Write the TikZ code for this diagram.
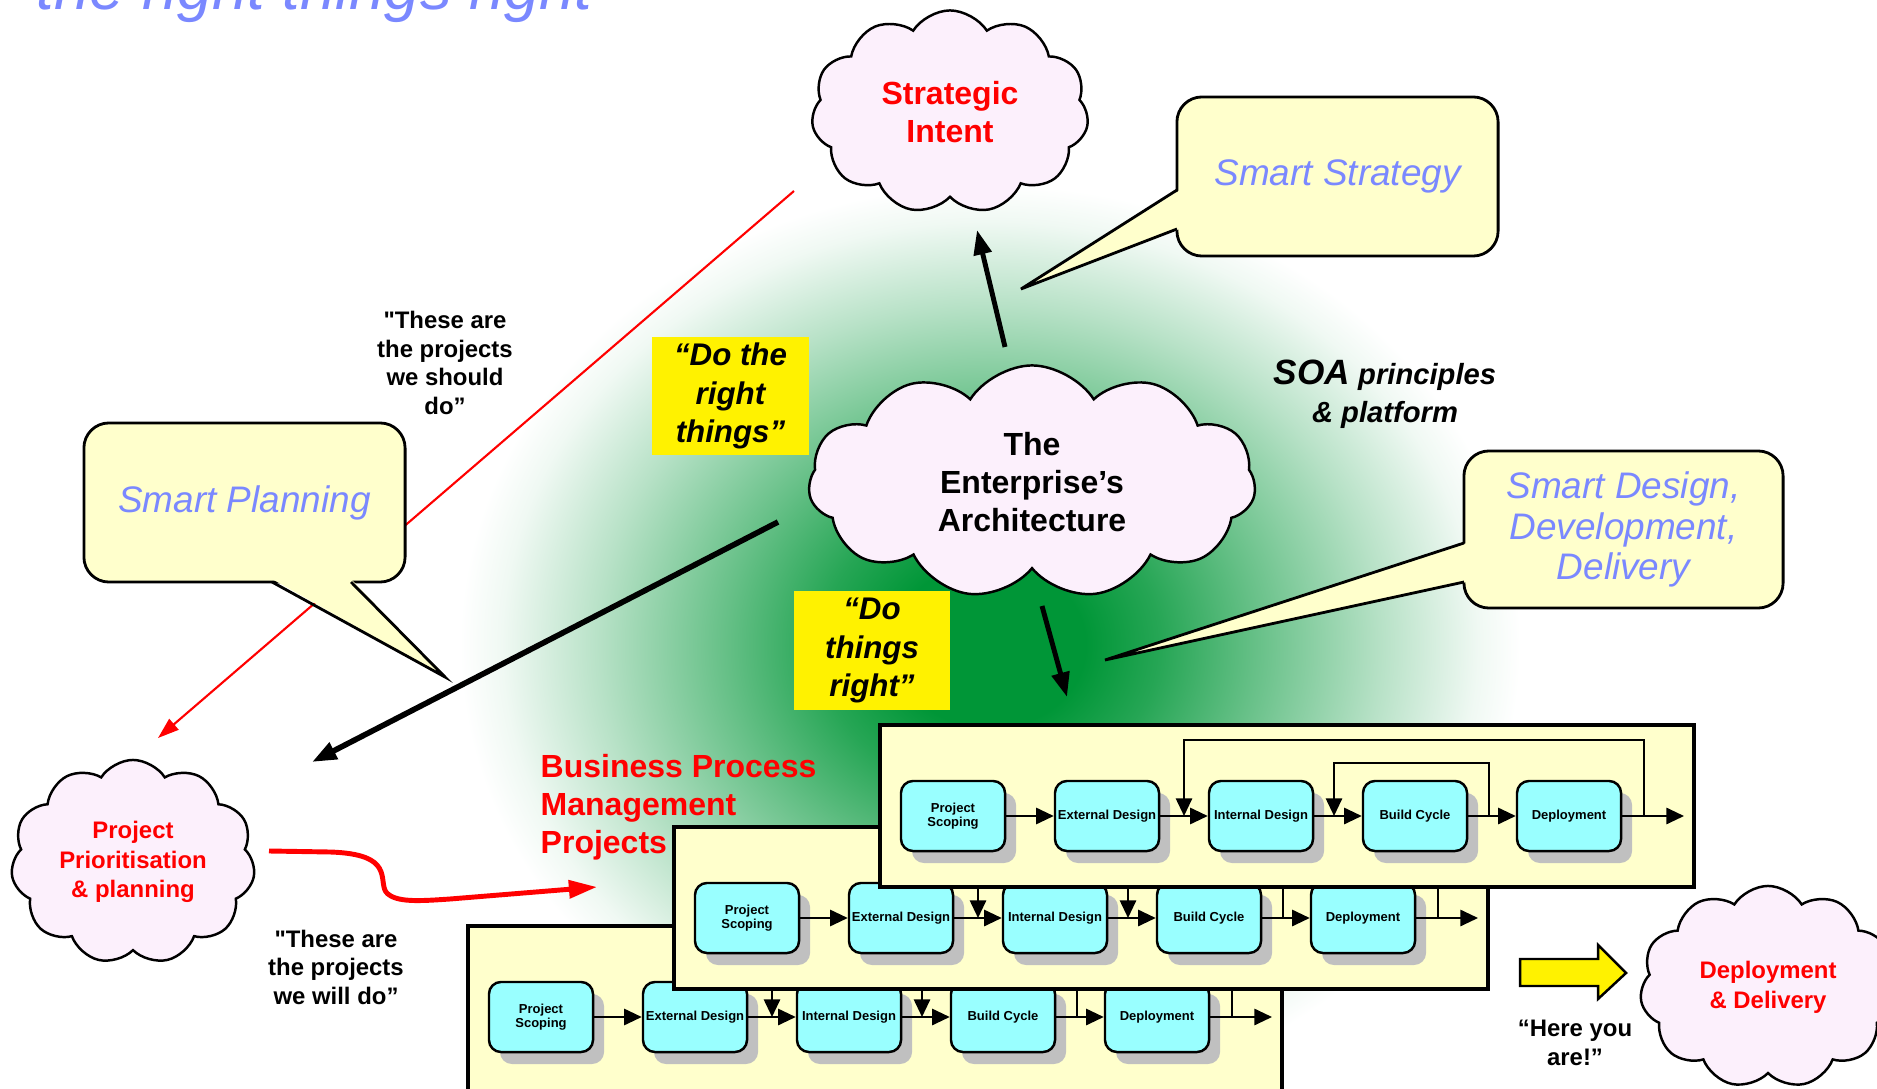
\documentclass[tikz,border=0pt]{standalone}
\usepackage{fontspec}
\setmainfont{Liberation Sans}[Ligatures=TeXOff]
\usetikzlibrary{shapes.symbols,shadows,arrows.meta}

\definecolor{cloudpink}{RGB}{252,240,252}
\definecolor{noteyellow}{RGB}{255,255,204}
\definecolor{smartblue}{RGB}{122,136,255}
\definecolor{boxcyan}{RGB}{153,255,255}
\definecolor{shadowgray}{RGB}{192,192,192}
\definecolor{soagreen}{RGB}{0,150,55}
\colorlet{deepgreen}{soagreen!85}
\colorlet{midgreen}{soagreen!60}
\colorlet{palegreen}{soagreen!28}
\colorlet{faintgreen}{soagreen!6}
\pgfdeclareradialshading{glow}{\pgfpoint{0bp}{0bp}}{color(0bp)=(soagreen); color(4.5bp)=(soagreen); color(8bp)=(deepgreen); color(12.5bp)=(midgreen); color(18.5bp)=(palegreen); color(23bp)=(faintgreen); color(25bp)=(white); color(50bp)=(white)}

\begin{document}
\begin{tikzpicture}[x=0.01cm,y=-0.01cm]

\tikzstyle{cloudy}=[cloud,cloud puffs=11,cloud puff arc=115,cloud ignores aspect,draw,line width=0.7pt,fill=cloudpink,align=center,inner sep=0pt]
\tikzstyle{callout}=[draw,line width=0.8pt,rounded corners=0.25cm,fill=noteyellow,text=smartblue,align=center,font=\itshape\fontsize{10.5}{11.4}\selectfont]
\tikzstyle{quotebox}=[fill=yellow,align=center,inner sep=0pt,font=\bfseries\itshape\fontsize{8.9}{10.9}\selectfont]
\tikzstyle{saying}=[align=center,inner sep=0pt,font=\bfseries\fontsize{6.8}{8.1}\selectfont]
\tikzstyle{bigarrow}=[line width=1.4pt,-{Triangle[length=7pt,width=5pt]}]
\tikzstyle{panel}=[draw,line width=0.9pt,fill=noteyellow]
\tikzstyle{process}=[draw,line width=0.7pt,rounded corners=0.12cm,fill=boxcyan,minimum width=1.04cm,minimum height=0.7cm,inner sep=0pt,align=center,font=\bfseries\fontsize{3.7}{4}\selectfont,drop shadow={shadow xshift=0.11cm,shadow yshift=-0.12cm,fill=shadowgray,opacity=1}]
\tikzstyle{flow}=[line width=0.6pt,-{Triangle[length=5pt,width=4.6pt]}]

\useasboundingbox[fill=white] (0,0) rectangle (1877,1089);
\shade[shading=glow] (990,645) ellipse [x radius=5.3cm,y radius=4.6cm];

% red line behind the planning note
\coordinate (r1) at (794,191);
\coordinate (r2) at (158,738);
\draw[red,line width=0.6pt,-{Triangle[length=6pt,width=4pt]}] (r1) -- (r2);

\node[anchor=base west,inner sep=0pt,text=smartblue,font=\itshape\fontsize{18}{21}\selectfont] (0) at (36,10) {the right things right};

\node[cloudy,minimum width=2.77cm,minimum height=2.03cm,text=red,font=\bfseries\fontsize{9.1}{10.8}\selectfont] (1) at (950,112) {Strategic\\Intent};
\node[cloudy,minimum width=4.47cm,minimum height=2.33cm,font=\bfseries\fontsize{9.1}{10.8}\selectfont] (2) at (1032,482) {The\\Enterprise’s\\Architecture};
\node[cloudy,minimum width=2.44cm,minimum height=2.04cm,text=red,font=\bfseries\fontsize{6.8}{8.3}\selectfont] (3) at (133,862) {Project\\Prioritisation\\\& planning};

% callouts
\node[callout,minimum width=3.21cm,minimum height=1.59cm] (5) at (1337.5,176.5) {Smart Strategy};
\fill[noteyellow] (1021,289) -- (1180,190) -- (1180,229) -- cycle;
\draw[line width=0.8pt] (1177,190) -- (1021,289) -- (1177,229);

\node[callout,minimum width=3.21cm,minimum height=1.59cm] (6) at (244.5,502.5) {Smart Planning};
\fill[noteyellow] (272,579) -- (445,677) -- (351,579) -- cycle;
\draw[line width=0.8pt] (272,582) -- (445,677) -- (351,582);

\node[callout,minimum width=3.19cm,minimum height=1.57cm] (7) at (1623.5,529.5) {Smart Design,\\Development,\\Delivery};
\fill[noteyellow] (1105,660) -- (1467,543) -- (1467,582) -- cycle;
\draw[line width=0.8pt] (1464,543) -- (1105,660) -- (1464,582);

\node[quotebox,minimum width=1.57cm,minimum height=1.18cm] (8) at (730.5,396) {“Do the\\right\\things”};
\node[quotebox,minimum width=1.56cm,minimum height=1.19cm] (9) at (872,650.5) {“Do\\things\\right”};

\node[align=center,inner sep=0pt,font=\bfseries\itshape\fontsize{8.3}{10.8}\selectfont] (11) at (1385,394) {{\fontsize{10}{10.8}\selectfont SOA} principles\\\& platform};
\node[saying] (12) at (445,363) {"These are\\the projects\\we should\\do”};
\node[saying] (13) at (336,967) {"These are\\the projects\\we will do”};
\node[saying] (14) at (1575,1043) {“Here you\\are!”};
\node[anchor=west,align=left,inner sep=0pt,text=red,font=\bfseries\fontsize{9.1}{10.8}\selectfont] (15) at (540,807) {Business Process\\Management\\Projects};

% thick arrows
\coordinate (e1) at (1005,347);
\coordinate (e2) at (977,230);
\coordinate (e3) at (1042,606);
\coordinate (e4) at (1067,697);
\coordinate (e5) at (778,522);
\coordinate (e6) at (312,762);
\draw[bigarrow] (e1) -- (e2);
\draw[bigarrow] (e3) -- (e4);
\draw[bigarrow,line width=1.6pt] (e5) -- (e6);

\coordinate (w1) at (269,851);
\coordinate (w2) at (597,887);
\draw[red,line width=1.4pt,-{Triangle[length=8pt,width=5pt]}] (w1) -- (330,852) .. controls (395,854) and (378,880) .. (386,892) .. controls (395,903) and (420,901) .. (450,899) -- (w2);

% panel C
\begin{scope}[shift={(468,926)}]
\draw[panel] (0,0) rectangle (814,180);
\node[process] (c1) at (73,91) {Project\\Scoping};
\node[process] (c2) at (227,91) {External Design};
\node[process] (c3) at (381,91) {Internal Design};
\node[process] (c4) at (535,91) {Build Cycle};
\node[process] (c5) at (689,91) {Deployment};
\coordinate (c6) at (804,91);
\coordinate (c7) at (764,91);
\coordinate (c8) at (304,91);
\coordinate (c9) at (609,91);
\coordinate (c10) at (454,91);
\draw[flow] (c1) -- (c2);
\draw[flow] (c2) -- (c3);
\draw[flow] (c3) -- (c4);
\draw[flow] (c4) -- (c5);
\draw[flow] (c5) -- (c6);
\draw[flow] (c7) -- ++(0,-76) -| (c8);
\draw[flow] (c9) -- ++(0,-53) -| (c10);
\end{scope}

% panel B
\begin{scope}[shift={(674,827)}]
\draw[panel] (0,0) rectangle (814,162);
\node[process] (b1) at (73,91) {Project\\Scoping};
\node[process] (b2) at (227,91) {External Design};
\node[process] (b3) at (381,91) {Internal Design};
\node[process] (b4) at (535,91) {Build Cycle};
\node[process] (b5) at (689,91) {Deployment};
\coordinate (b6) at (804,91);
\coordinate (b7) at (764,91);
\coordinate (b8) at (304,91);
\coordinate (b9) at (609,91);
\coordinate (b10) at (454,91);
\draw[flow] (b1) -- (b2);
\draw[flow] (b2) -- (b3);
\draw[flow] (b3) -- (b4);
\draw[flow] (b4) -- (b5);
\draw[flow] (b5) -- (b6);
\draw[flow] (b7) -- ++(0,-76) -| (b8);
\draw[flow] (b9) -- ++(0,-53) -| (b10);
\end{scope}

% panel A
\begin{scope}[shift={(880,725)}]
\draw[panel] (0,0) rectangle (814,162);
\node[process] (a1) at (73,91) {Project\\Scoping};
\node[process] (a2) at (227,91) {External Design};
\node[process] (a3) at (381,91) {Internal Design};
\node[process] (a4) at (535,91) {Build Cycle};
\node[process] (a5) at (689,91) {Deployment};
\coordinate (a6) at (804,91);
\coordinate (a7) at (764,91);
\coordinate (a8) at (304,91);
\coordinate (a9) at (609,91);
\coordinate (a10) at (454,91);
\draw[flow] (a1) -- (a2);
\draw[flow] (a2) -- (a3);
\draw[flow] (a3) -- (a4);
\draw[flow] (a4) -- (a5);
\draw[flow] (a5) -- (a6);
\draw[flow] (a7) -- ++(0,-76) -| (a8);
\draw[flow] (a9) -- ++(0,-53) -| (a10);
\end{scope}

\draw[line width=0.7pt,fill=yellow] (1520,959) -- (1598,959) -- (1598,945) -- (1626,973) -- (1598,999) -- (1598,986) -- (1520,986) -- cycle;
\node[cloudy,minimum width=2.56cm,minimum height=2.02cm,text=red,font=\bfseries\fontsize{6.8}{8.5}\selectfont] (4) at (1768,987) {Deployment\\\& Delivery};

%\draw[bigarrow] (2) -- (1);
\end{tikzpicture}
\end{document}
